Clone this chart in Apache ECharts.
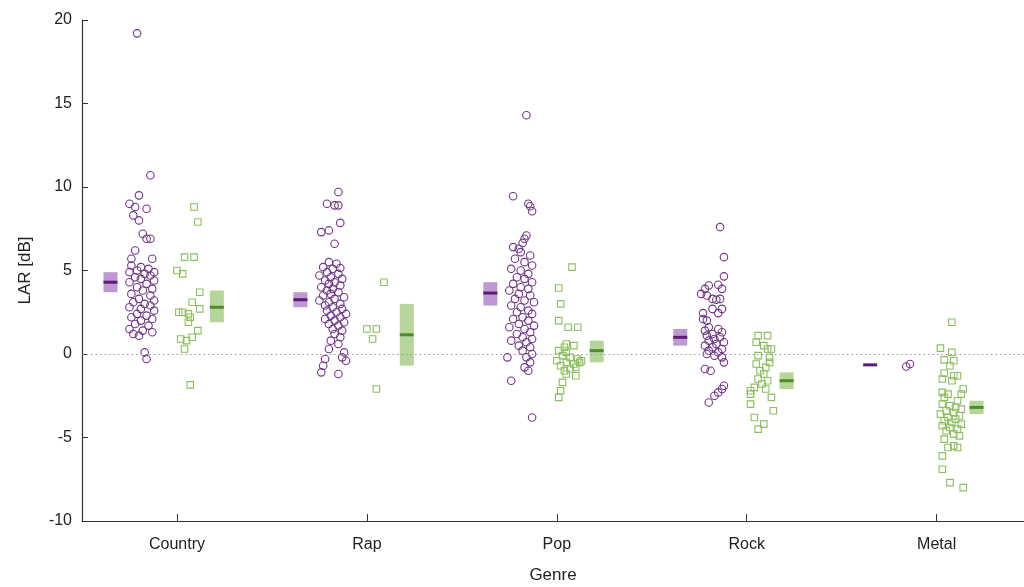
<!DOCTYPE html>
<html><head><meta charset="utf-8">
<script src="https://cdn.jsdelivr.net/npm/echarts@6/dist/echarts.min.js"></script>
<style>html,body{margin:0;padding:0;background:#fff;overflow:hidden}#c{width:1024px;height:587px}</style>
</head><body><div id="c"></div>
<script>
const genres = ['Country', 'Rap', 'Pop', 'Rock', 'Metal'];
const yTicks = [-10, -5, 0, 5, 10, 15, 20];

// Mean and confidence interval per genre (purple = circles, green = squares)
const purpleMean = [4.3, 3.25, 3.65, 1.0, -0.65];
const purpleLow  = [3.7, 2.8, 2.9, 0.5, -0.68];
const purpleHigh = [4.9, 3.7, 4.3, 1.5, -0.62];
const greenMean  = [2.8, 1.15, 0.2, -1.6, -3.2];
const greenLow   = [1.9, -0.7, -0.5, -2.1, -3.6];
const greenHigh  = [3.8, 3.0, 0.8, -1.1, -2.8];

// Individual tracks: [jitter offset from genre tick (category units), LAR dB]
const countryCircles = [
  [-0.21,19.2],[-0.14,10.7],[-0.20,9.5],[-0.25,9.0],[-0.22,8.8],[-0.16,8.7],[-0.23,8.3],[-0.20,8.0],
  [-0.18,7.2],[-0.16,6.9],[-0.14,6.9],[-0.22,6.2],[-0.24,5.7],[-0.13,5.7],
  [-0.24,5.3],[-0.19,5.2],[-0.15,5.1],[-0.21,5.0],[-0.12,4.9],[-0.25,4.9],[-0.17,4.8],[-0.14,4.7],
  [-0.22,4.6],[-0.19,4.5],[-0.12,4.4],[-0.25,4.3],[-0.16,4.2],[-0.21,4.0],[-0.13,3.9],[-0.18,3.8],
  [-0.24,3.6],[-0.14,3.5],[-0.20,3.3],[-0.12,3.2],[-0.23,3.1],[-0.17,3.0],[-0.14,2.9],[-0.25,2.8],
  [-0.19,2.7],[-0.12,2.6],[-0.21,2.4],[-0.16,2.3],[-0.24,2.2],[-0.13,2.1],[-0.19,2.0],[-0.22,1.8],
  [-0.15,1.7],[-0.25,1.5],[-0.18,1.4],[-0.13,1.3],[-0.23,1.2],[-0.20,1.1],[-0.17,0.1],[-0.16,-0.3]
];
const countrySquares = [
  [0.09,8.8],[0.11,7.9],[0.04,5.8],[0.09,5.8],[0.00,5.0],[0.03,4.8],[0.12,3.7],[0.08,3.1],
  [0.12,2.7],[0.01,2.5],[0.03,2.5],[0.06,2.4],[0.07,2.2],[0.06,1.9],[0.11,1.4],[0.08,1.0],
  [0.02,0.9],[0.05,0.8],[0.04,0.3],[0.07,-1.85]
];
const rapCircles = [
  [-0.15,9.7],[-0.21,9.0],[-0.17,8.9],[-0.15,8.9],[-0.14,7.85],[-0.24,7.3],[-0.20,7.4],[-0.17,6.6],
  [-0.14,5.15],[-0.20,5.5],[-0.16,5.4],[-0.23,5.2],[-0.18,5.1],[-0.21,4.9],[-0.15,4.8],[-0.25,4.7],
  [-0.19,4.6],[-0.13,4.5],[-0.22,4.4],[-0.17,4.3],[-0.20,4.2],[-0.14,4.1],[-0.24,4.0],[-0.18,3.9],
  [-0.21,3.8],[-0.15,3.7],[-0.19,3.6],[-0.23,3.5],[-0.12,3.4],[-0.17,3.3],[-0.25,3.2],[-0.20,3.1],
  [-0.14,3.0],[-0.22,2.9],[-0.18,2.8],[-0.13,2.7],[-0.21,2.6],[-0.16,2.5],[-0.11,2.4],[-0.19,2.3],
  [-0.14,2.2],[-0.22,2.1],[-0.17,2.0],[-0.12,1.9],[-0.20,1.8],[-0.15,1.7],[-0.18,1.5],[-0.13,1.4],
  [-0.17,1.2],[-0.14,1.0],[-0.19,0.8],[-0.15,0.6],[-0.20,0.3],[-0.12,0.1],[-0.13,-0.2],[-0.22,-0.3],
  [-0.11,-0.4],[-0.23,-0.7],[-0.24,-1.1],[-0.15,-1.2]
];
const rapSquares = [[0.09,4.3],[0.00,1.5],[0.05,1.5],[0.03,0.9],[0.05,-2.1]];
const popCircles = [
  [-0.16,14.3],[-0.23,9.45],[-0.15,9.0],[-0.14,8.85],[-0.13,8.55],[-0.16,7.1],[-0.17,6.9],[-0.18,6.65],
  [-0.23,6.4],[-0.20,6.3],[-0.19,6.1],[-0.14,5.9],[-0.22,5.7],[-0.17,5.5],[-0.13,5.3],[-0.24,5.1],
  [-0.19,5.0],[-0.15,4.8],[-0.21,4.6],[-0.17,4.5],[-0.13,4.3],[-0.23,4.2],[-0.19,4.0],[-0.15,3.9],
  [-0.25,3.8],[-0.20,3.6],[-0.14,3.5],[-0.22,3.3],[-0.17,3.2],[-0.12,3.1],[-0.24,2.9],[-0.19,2.8],
  [-0.15,2.6],[-0.21,2.5],[-0.13,2.4],[-0.18,2.2],[-0.23,2.1],[-0.15,2.0],[-0.20,1.8],[-0.12,1.7],
  [-0.25,1.6],[-0.17,1.5],[-0.14,1.3],[-0.21,1.2],[-0.18,1.0],[-0.13,0.9],[-0.24,0.8],[-0.16,0.7],
  [-0.20,0.5],[-0.14,0.4],[-0.18,0.2],[-0.13,0.0],[-0.26,-0.2],[-0.16,-0.2],[-0.14,-0.5],[-0.17,-0.8],
  [-0.15,-1.0],[-0.24,-1.6],[-0.13,-3.8]
];
const popSquares = [
  [0.08,5.2],[0.01,3.95],[0.02,3.0],[0.01,2.0],[0.06,1.6],[0.11,1.6],[0.05,0.6],[0.09,0.5],
  [0.04,0.4],[0.01,0.2],[0.05,0.1],[0.03,-0.1],[0.07,-0.2],[0.11,-0.3],[0.00,-0.4],[0.13,-0.4],
  [0.05,-0.5],[0.12,-0.5],[0.09,-0.6],[0.02,-0.7],[0.10,-0.8],[0.07,-0.9],[0.04,-1.0],[0.05,-1.2],
  [0.10,-1.3],[0.03,-1.7],[0.02,-2.2],[0.01,-2.6]
];
const rockCircles = [
  [-0.14,7.6],[-0.12,5.8],[-0.12,4.65],[-0.15,4.15],[-0.13,3.9],[-0.20,4.1],[-0.22,3.9],[-0.24,3.6],
  [-0.21,3.5],[-0.18,3.3],[-0.16,3.25],[-0.14,3.3],[-0.13,2.7],[-0.15,2.45],[-0.23,2.45],[-0.18,2.7],
  [-0.23,2.1],[-0.21,2.0],[-0.20,1.6],[-0.15,1.5],[-0.22,1.4],[-0.13,1.3],[-0.18,1.2],[-0.21,1.1],
  [-0.14,1.0],[-0.17,0.9],[-0.20,0.8],[-0.12,0.7],[-0.16,0.6],[-0.22,0.5],[-0.18,0.4],[-0.13,0.3],
  [-0.20,0.2],[-0.15,0.1],[-0.21,0.0],[-0.17,-0.1],[-0.13,-0.2],[-0.12,-0.5],[-0.22,-0.9],[-0.19,-1.0],
  [-0.12,-1.9],[-0.13,-2.1],[-0.15,-2.3],[-0.17,-2.5],[-0.20,-2.9]
];
const rockSquares = [
  [0.06,1.1],[0.11,1.1],[0.05,0.7],[0.09,0.5],[0.11,0.3],[0.13,0.3],[0.06,-0.1],[0.12,-0.2],
  [0.12,-0.5],[0.05,-0.6],[0.10,-0.8],[0.07,-1.0],[0.09,-1.2],[0.06,-1.5],[0.11,-1.6],[0.08,-1.8],
  [0.04,-2.0],[0.10,-2.1],[0.02,-2.2],[0.02,-2.4],[0.13,-2.6],[0.02,-3.0],[0.14,-3.4],[0.04,-3.8],
  [0.09,-4.2],[0.06,-4.5]
];
const metalCircles = [[-0.16,-0.75],[-0.14,-0.6]];
const metalSquares = [
  [0.08,1.9],[0.02,0.35],[0.08,0.1],[0.04,-0.35],[0.09,-0.4],[0.07,-0.7],[0.04,-1.15],[0.09,-1.3],
  [0.11,-1.3],[0.03,-1.5],[0.08,-1.6],[0.14,-2.1],[0.03,-2.3],[0.06,-2.4],[0.13,-2.4],[0.04,-2.6],
  [0.11,-2.8],[0.03,-3.0],[0.07,-3.1],[0.10,-3.2],[0.13,-3.3],[0.05,-3.4],[0.09,-3.5],[0.02,-3.6],
  [0.12,-3.7],[0.06,-3.8],[0.10,-3.9],[0.04,-4.0],[0.08,-4.1],[0.13,-4.2],[0.03,-4.3],[0.07,-4.4],
  [0.11,-4.5],[0.05,-4.6],[0.09,-4.8],[0.12,-4.9],[0.04,-5.1],[0.09,-5.5],[0.06,-5.6],[0.11,-5.6],
  [0.03,-6.1],[0.03,-6.9],[0.07,-7.7],[0.14,-8.0]
];

const circleSets = [countryCircles, rapCircles, popCircles, rockCircles, metalCircles];
const squareSets = [countrySquares, rapSquares, popSquares, rockSquares, metalSquares];

const PURPLE = '#6f3587', PURPLE_BOX = 'rgba(165,112,192,0.72)', PURPLE_MEAN = '#5a1c74';
const GREEN = '#8cbf5e', GREEN_BOX = 'rgba(152,198,112,0.72)', GREEN_MEAN = '#4d8b2b';
const PURPLE_OFF = -0.35, GREEN_OFF = 0.21, BOX_W = 14;

const circleData = [], squareData = [];
circleSets.forEach((set, i) => set.forEach(p => circleData.push([i + 1 + p[0], p[1]])));
squareSets.forEach((set, i) => set.forEach(p => squareData.push([i + 1 + p[0], p[1]])));

const purpleStats = genres.map((g, i) => [i + 1, purpleMean[i], purpleLow[i], purpleHigh[i]]);
const greenStats = genres.map((g, i) => [i + 1, greenMean[i], greenLow[i], greenHigh[i]]);

function boxRenderer(offset, fill, meanColor) {
  return function (params, api) {
    const x = api.value(0) + offset;
    const pm = api.coord([x, api.value(1)]);
    const pl = api.coord([x, api.value(2)]);
    const ph = api.coord([x, api.value(3)]);
    const children = [];
    if (Math.abs(pl[1] - ph[1]) > 1.5) {
      children.push({ type: 'rect', shape: { x: pm[0] - BOX_W / 2, y: ph[1], width: BOX_W, height: pl[1] - ph[1] },
        style: { fill: fill } });
    }
    children.push({ type: 'rect', shape: { x: pm[0] - BOX_W / 2, y: pm[1] - 1.5, width: BOX_W, height: 3 },
      style: { fill: meanColor } });
    return { type: 'group', children: children };
  };
}

const chart = echarts.init(document.getElementById('c'), null, { renderer: 'canvas' });
const FONT = 'Liberation Sans, Arial, sans-serif';
chart.setOption({
  animation: false,
  backgroundColor: '#fff',
  grid: { left: 82, right: 0, top: 20, bottom: 66, containLabel: false, outerBoundsMode: 'none' },
  xAxis: {
    type: 'value', min: 0.5, max: 5.46,
    name: 'Genre', nameLocation: 'middle', nameGap: 46,
    nameTextStyle: { fontFamily: FONT, fontSize: 17, color: '#222' },
    axisLine: { show: true, onZero: false, lineStyle: { color: '#333', width: 1.2 } },
    axisTick: { show: true, inside: true, length: 7, customValues: [1, 2, 3, 4, 5], lineStyle: { color: '#333' } },
    axisLabel: { customValues: [1, 2, 3, 4, 5], formatter: v => genres[Math.round(v) - 1] || '',
      margin: 16, fontFamily: FONT, fontSize: 16, color: '#222' },
    splitLine: { show: false }
  },
  yAxis: {
    type: 'value', min: yTicks[0], max: yTicks[yTicks.length - 1], interval: 5,
    name: 'LAR [dB]', nameLocation: 'middle', nameGap: 48, nameRotate: 90,
    nameTextStyle: { fontFamily: FONT, fontSize: 17, color: '#222' },
    axisLine: { show: true, lineStyle: { color: '#333', width: 1.2 } },
    axisTick: { show: true, inside: true, length: 6, lineStyle: { color: '#333' } },
    axisLabel: { margin: 10, fontFamily: FONT, fontSize: 16, color: '#222' },
    splitLine: { show: false }
  },
  series: [
    {
      type: 'custom', name: 'purple stats', data: purpleStats, renderItem: boxRenderer(PURPLE_OFF, PURPLE_BOX, PURPLE_MEAN),
      encode: { x: 0, y: [1, 2, 3] }, z: 3,
      markLine: { silent: true, symbol: 'none', label: { show: false },
        lineStyle: { type: [1.5, 3], color: '#999', width: 1 }, data: [{ yAxis: 0 }] }
    },
    {
      type: 'custom', name: 'green stats', data: greenStats, renderItem: boxRenderer(GREEN_OFF, GREEN_BOX, GREEN_MEAN),
      encode: { x: 0, y: [1, 2, 3] }, z: 3
    },
    {
      type: 'scatter', name: 'circles', data: circleData, symbol: 'circle', symbolSize: 7.5,
      itemStyle: { color: 'rgba(0,0,0,0)', borderColor: PURPLE, borderWidth: 1.1, opacity: 1 }, z: 4
    },
    {
      type: 'scatter', name: 'squares', data: squareData, symbol: 'rect', symbolSize: 6.5,
      itemStyle: { color: 'rgba(0,0,0,0)', borderColor: GREEN, borderWidth: 1.1, opacity: 1 }, z: 4
    }
  ]
});
</script></body></html>
